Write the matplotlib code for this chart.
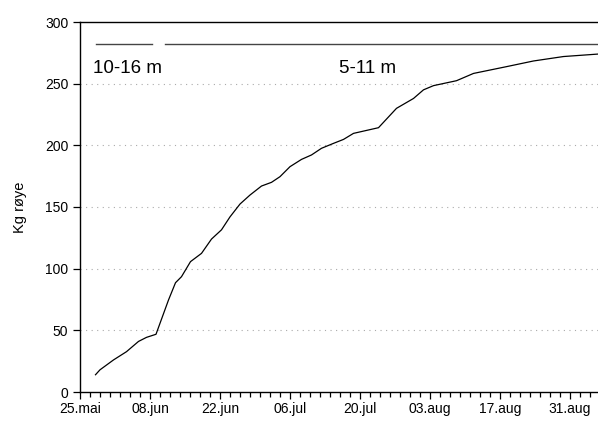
import matplotlib
matplotlib.use("Agg")
import matplotlib.pyplot as plt
from matplotlib.ticker import MultipleLocator

plt.rcParams['font.family'] = ['Liberation Sans', 'DejaVu Sans']

# dager etter 25. mai, kumulativ fangst (kg)
dager = [3.1, 4, 6.7, 9.3, 11.7, 13.3, 15.2, 17.7, 19.1, 20.3, 22.1, 24.3, 26.3,
         28.3, 30, 32, 34, 36.3, 38.3, 40, 42, 44.3, 46.3, 48.3, 50.7, 52.7,
         54.7, 59.7, 63.3, 66.7, 68.7, 70.7, 75.3, 78.7, 85.3, 90.7, 96.7, 103.6]
kg = [14, 18, 26, 32.7, 41, 44.3, 46.8, 74.6, 88.6, 93.5, 105.7, 112.4, 124,
      131.5, 142, 152.4, 159.7, 167, 170, 174.6, 182.7, 188.6, 192.2, 197.6, 201.6,
      204.8, 209.7, 214.3, 230, 238, 245, 248.4, 252.4, 258.3, 263.8, 268.4, 272, 274]

# dybdeperioder
perioder = [(3.1, 14.3, "10-16 m"), (16.9, 103.6, "5-11 m")]
tekst_x = [2.6, 51.8]

tick_dager = [0, 14, 28, 42, 56, 70, 84, 98]
tick_tekst = ["25.mai", "08.jun", "22.jun", "06.jul", "20.jul", "03.aug", "17.aug", "31.aug"]

fig = plt.figure(figsize=(5.98, 4.21), dpi=100)
ax = fig.add_axes([80/598, 29/421, 518/598, 370/421])

ax.plot(dager, kg, color="black", lw=0.9)

for (a, b, navn), tx in zip(perioder, tekst_x):
    ax.plot([a, b], [282.5, 282.5], color="#444444", lw=1.0)
    ax.text(tx, 262.5, navn, fontsize=13.5, va="center", ha="left")

ax.set_xlim(0, 103.6)
ax.set_ylim(0, 300)
ax.set_yticks(range(0, 301, 50))
ax.set_xticks(tick_dager)
ax.set_xticklabels(tick_tekst)
ax.xaxis.set_minor_locator(MultipleLocator(2))

for y in range(50, 300, 50):
    ax.axhline(y, color="#aaaaaa", lw=0.8, ls=(0, (1, 4)), zorder=0)

ax.spines['right'].set_visible(False)
for s in ['left', 'bottom', 'top']:
    ax.spines[s].set_linewidth(1.0)

ax.tick_params(axis='both', which='major', labelsize=10, length=5, width=0.9, direction='out')
ax.tick_params(axis='x', which='minor', length=3.5, width=0.9, direction='out')
ax.tick_params(axis='x', which='major', pad=2.5)
ax.set_ylabel("Kg røye", fontsize=10.5, labelpad=13)

fig.savefig("out.png", dpi=100)
